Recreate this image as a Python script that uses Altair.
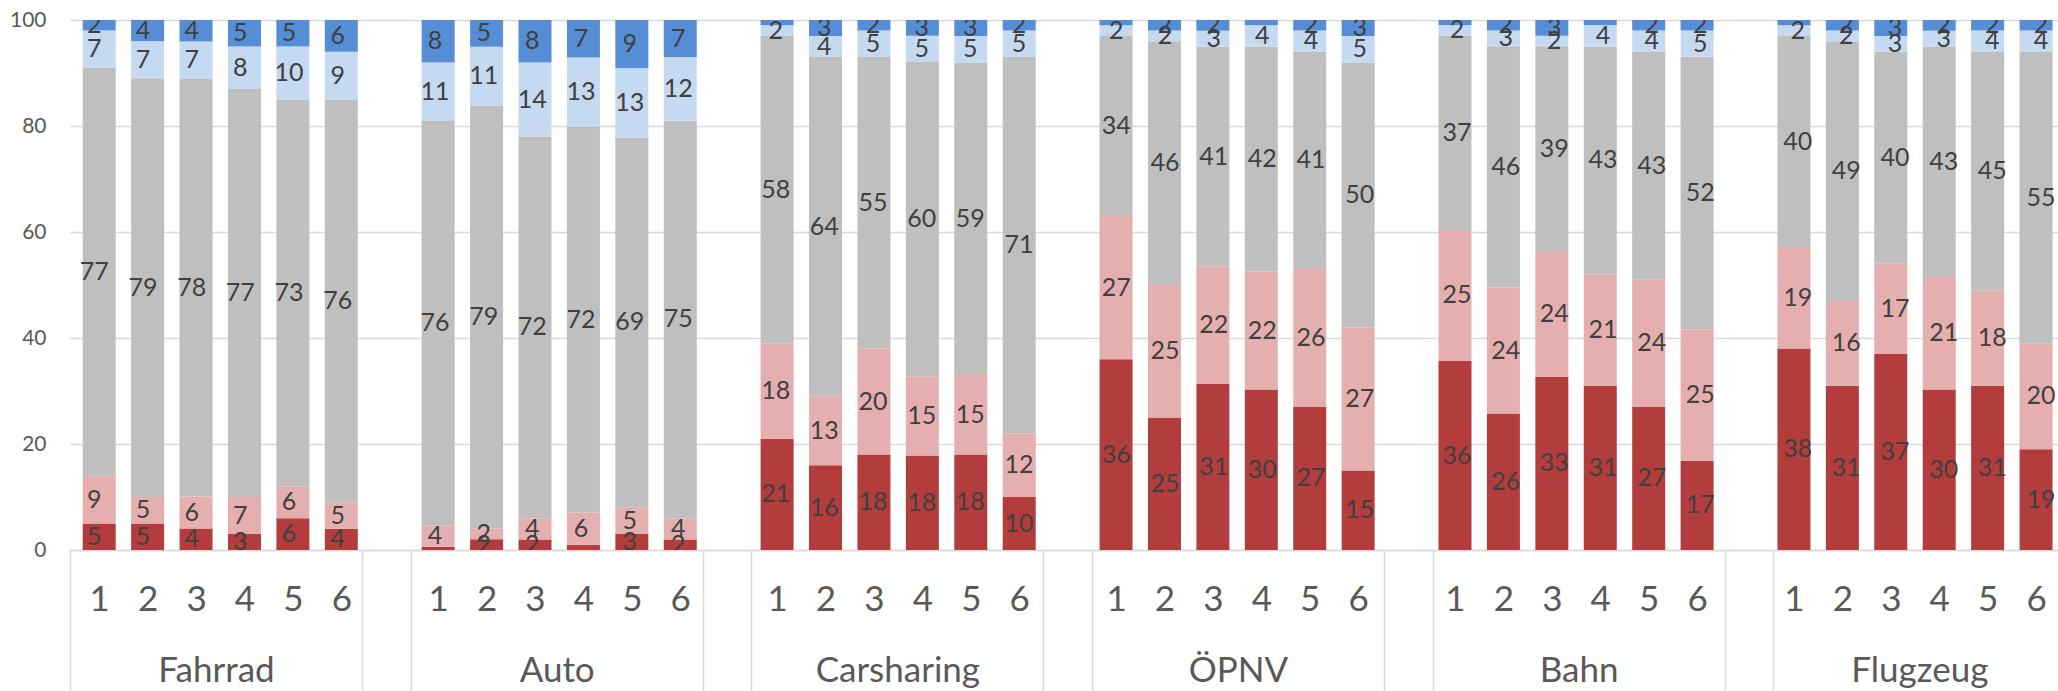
import json
import altair as alt
import pandas as pd

# ---------------- data ----------------
groups = ["Fahrrad", "Auto", "Carsharing", "ÖPNV", "Bahn", "Flugzeug"]
bar_labels = ["1", "2", "3", "4", "5", "6"]
series = ["s1", "s2", "s3", "s4", "s5"]          # bottom -> top
y_ticks = [0, 20, 40, 60, 80, 100]

# values per series, 6 groups x 6 bars (in group order)
s1_dark_red = [5, 5, 4, 3, 6, 4,
               0.6, 2, 2, 1, 3, 2,
               21, 16, 18, 18, 18, 10,
               36, 25, 31, 30, 27, 15,
               36, 26, 33, 31, 27, 17,
               38, 31, 37, 30, 31, 19]
s2_light_red = [9, 5, 6, 7, 6, 5,
                4, 2, 4, 6, 5, 4,
                18, 13, 20, 15, 15, 12,
                27, 25, 22, 22, 26, 27,
                25, 24, 24, 21, 24, 25,
                19, 16, 17, 21, 18, 20]
s3_grey = [77, 79, 78, 77, 73, 76,
           76, 79, 72, 72, 69, 75,
           58, 64, 55, 60, 59, 71,
           34, 46, 41, 42, 41, 50,
           37, 46, 39, 43, 43, 52,
           40, 49, 40, 43, 45, 55]
s4_light_blue = [7, 7, 7, 8, 10, 9,
                 11, 11, 14, 13, 13, 12,
                 2, 4, 5, 5, 5, 5,
                 2, 2, 3, 4, 4, 5,
                 2, 3, 2, 4, 4, 5,
                 2, 2, 3, 3, 4, 4]
s5_blue = [2, 4, 4, 5, 5, 6,
           8, 5, 8, 7, 9, 7,
           1, 3, 2, 3, 3, 2,
           1, 2, 2, 1, 2, 3,
           1, 2, 3, 1, 2, 2,
           1, 2, 3, 2, 2, 2]

colors = ["#B33D3C", "#E5AFAF", "#BFBFBF", "#C5D9F1", "#558ED5"]

# ---------------- table ----------------
all_series = [s1_dark_red, s2_light_red, s3_grey, s4_light_blue, s5_blue]
per_group = len(bar_labels) + 1  # one empty slot between groups
rows = []
for gi, g in enumerate(groups):
    for bi, b in enumerate(bar_labels):
        k = gi * len(bar_labels) + bi
        slot = gi * per_group + bi
        for si, s in enumerate(series):
            v = all_series[si][k]
            rows.append({
                "group": g, "bar": b, "slot": slot, "xc": slot + 0.5,
                "series": s, "order": si, "value": v,
                "label": str(int(round(v))) if v >= 1.5 else "",
            })
df = pd.DataFrame(rows)

XMAX = 40.85
xscale = alt.Scale(domain=[0, XMAX], nice=False, zero=False)
yscale = alt.Scale(domain=[0, 100], nice=False, zero=True)

FONT = "Lato"
AX_COL = "#595959"
GRID_COL = "#D9D9D9"

center_vals = [gi * per_group + bi + 0.5 for gi in range(len(groups)) for bi in range(len(bar_labels))]
group_vals = [gi * per_group + len(bar_labels) / 2 for gi in range(len(groups))]
sep_vals = []
for gi in range(len(groups)):
    sep_vals += [gi * per_group, gi * per_group + len(bar_labels)]

digit_expr = f"{json.dumps(bar_labels)}[floor(datum.value) % {per_group}]"
group_expr = f"{json.dumps(groups, ensure_ascii=False)}[floor(datum.value / {per_group})]"

y_axis = alt.Axis(
    values=y_ticks, title=None, grid=True, gridColor=GRID_COL, gridWidth=1.5,
    domain=False, ticks=False, labelFont=FONT, labelFontSize=21,
    labelColor=AX_COL, labelPadding=24)

base = alt.Chart(df).transform_stack(
    stack="value", groupby=["slot"], sort=[alt.SortField("order")],
    offset="normalize", as_=["f0", "f1"]
).transform_calculate(
    p0="datum.f0 * 100", p1="datum.f1 * 100", pm="(datum.f0 + datum.f1) * 50"
)

bars = base.mark_bar(size=33, clip=True).encode(
    x=alt.X("xc:Q", scale=xscale, axis=alt.Axis(
        orient="bottom", values=center_vals, labelExpr=digit_expr, title=None,
        grid=False, ticks=False, domain=True, domainColor=GRID_COL, domainWidth=1.5,
        labelFont=FONT, labelFontSize=35, labelColor=AX_COL, labelPadding=32,
        labelFlush=False, labelOverlap=False, labelBound=False)),
    y=alt.Y("p0:Q", scale=yscale, axis=y_axis),
    y2="p1:Q",
    color=alt.Color("series:N", scale=alt.Scale(domain=series, range=colors), legend=None),
)

texts = base.mark_text(font=FONT, fontSize=25, color="#404040", baseline="middle", clip=True).encode(
    x=alt.X("xc:Q", scale=xscale, axis=None),
    y=alt.Y("pm:Q", scale=yscale, axis=y_axis),
    text="label:N",
)

group_axis = alt.Chart(df).mark_point(opacity=0).encode(
    x=alt.X("xc:Q", scale=xscale, axis=alt.Axis(
        orient="bottom", values=group_vals, labelExpr=group_expr, title=None,
        grid=False, ticks=False, domain=False, labelFont=FONT, labelFontSize=35,
        labelColor=AX_COL, labelPadding=103, labelFlush=False, labelOverlap=False,
        labelBound=False)),
)

sep_axis = alt.Chart(df).mark_point(opacity=0).encode(
    x=alt.X("xc:Q", scale=xscale, axis=alt.Axis(
        orient="bottom", values=sep_vals, title=None, grid=False, labels=False,
        ticks=True, tickSize=160, tickColor=GRID_COL, tickWidth=1.5, domain=False)),
)

chart = alt.layer(bars, texts, group_axis, sep_axis).resolve_scale(
    x="independent"
).properties(
    width=1988, height=530,
    autosize=alt.AutoSizeParams(type="none"),
    padding={"left": 70, "top": 20, "right": 0, "bottom": 141},
).configure_view(stroke=None)

chart.save("out.html", embed_options={"renderer": "svg", "actions": False})
